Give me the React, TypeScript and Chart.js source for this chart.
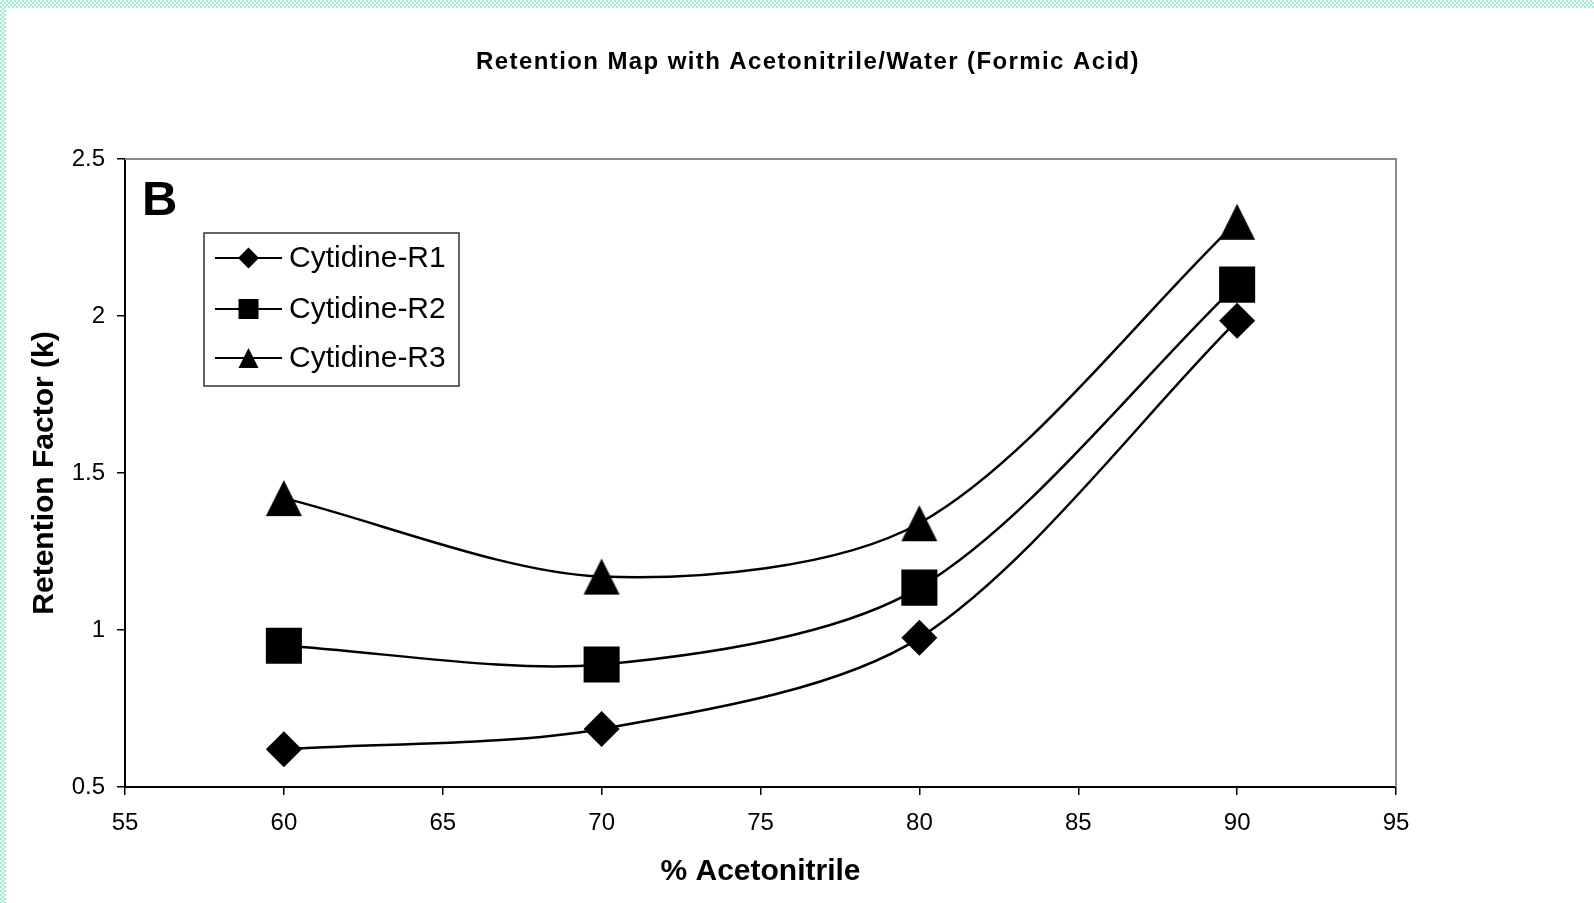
import React, { useEffect, useRef } from 'react';
import { Chart, registerables } from 'chart.js';
Chart.register(...registerables);

// ---- data ----
const acetonitrilePct = [60, 70, 80, 90];
const cytidineR1 = [0.62, 0.685, 0.975, 1.985];
const cytidineR2 = [0.95, 0.89, 1.135, 2.1];
const cytidineR3 = [1.42, 1.17, 1.34, 2.3];
const seriesNames = ['Cytidine-R1', 'Cytidine-R2', 'Cytidine-R3'];
const xRange = [55, 95];
const yRange = [0.5, 2.5];
const chartTitle = 'Retention Map with Acetonitrile/Water (Formic Acid)';
const xTitle = '% Acetonitrile';
const yTitle = 'Retention Factor (k)';
const panelLabel = 'B';

const FONT = '"Liberation Sans", Arial, Helvetica, sans-serif';

function makeTriangle(size: number): HTMLCanvasElement {
  const c = document.createElement('canvas');
  c.width = size + 2;
  c.height = size + 2;
  const g = c.getContext('2d')!;
  g.fillStyle = '#000';
  g.beginPath();
  g.moveTo((size + 2) / 2, 1);
  g.lineTo(size + 1, size + 1);
  g.lineTo(1, size + 1);
  g.closePath();
  g.fill();
  return c;
}

function drawMarker(ctx: CanvasRenderingContext2D, kind: number, x: number, y: number, s: number) {
  ctx.fillStyle = '#000';
  ctx.beginPath();
  if (kind === 0) {
    ctx.moveTo(x, y - s / 2);
    ctx.lineTo(x + s / 2, y);
    ctx.lineTo(x, y + s / 2);
    ctx.lineTo(x - s / 2, y);
  } else if (kind === 1) {
    ctx.rect(x - s / 2, y - s / 2, s, s);
  } else {
    ctx.moveTo(x, y - s / 2);
    ctx.lineTo(x + s / 2, y + s / 2);
    ctx.lineTo(x - s / 2, y + s / 2);
  }
  ctx.closePath();
  ctx.fill();
}

const framePlugin = {
  id: 'frame',
  beforeDatasetsDraw(chart: any) {
    const { ctx } = chart;
    const { left, top, right, bottom } = chart.chartArea;
    ctx.save();
    ctx.strokeStyle = '#8a8a8a';
    ctx.lineWidth = 2;
    ctx.beginPath();
    ctx.moveTo(left, top);
    ctx.lineTo(right, top);
    ctx.lineTo(right, bottom);
    ctx.stroke();
    ctx.restore();
  },
  afterDraw(chart: any) {
    const { ctx } = chart;
    const { left, top } = chart.chartArea;
    ctx.save();
    // chart title
    ctx.fillStyle = '#000';
    ctx.font = `bold 24px ${FONT}`;
    (ctx as any).letterSpacing = '1.4px';
    ctx.textAlign = 'center';
    ctx.textBaseline = 'middle';
    ctx.fillText(chartTitle, 808, 62);
    (ctx as any).letterSpacing = '0px';
    // panel label
    ctx.font = `bold 49px ${FONT}`;
    ctx.textAlign = 'left';
    ctx.textBaseline = 'alphabetic';
    ctx.fillText(panelLabel, left + 17, top + 56);
    // legend
    const bx = left + 79, by = top + 74, bw = 255, bh = 153;
    ctx.fillStyle = '#fff';
    ctx.fillRect(bx, by, bw, bh);
    ctx.strokeStyle = '#333';
    ctx.lineWidth = 1.5;
    ctx.strokeRect(bx, by, bw, bh);
    const rows = [by + 25, by + 76, by + 125];
    const sizes = [21, 20, 20];
    seriesNames.forEach((name, i) => {
      const y = rows[i];
      ctx.strokeStyle = '#000';
      ctx.lineWidth = 2;
      ctx.beginPath();
      ctx.moveTo(bx + 11, y);
      ctx.lineTo(bx + 78, y);
      ctx.stroke();
      drawMarker(ctx, i, bx + 44.5, y, sizes[i]);
      ctx.fillStyle = '#000';
      ctx.font = `30px ${FONT}`;
      ctx.textAlign = 'left';
      ctx.textBaseline = 'middle';
      ctx.fillText(name, bx + 85, y + 1);
    });
    ctx.restore();
  },
};

export default function App() {
  const ref = useRef<HTMLCanvasElement | null>(null);
  useEffect(() => {
    if (!ref.current) return;
    const tri = makeTriangle(36);
    const toPts = (ys: number[]) => acetonitrilePct.map((x, i) => ({ x, y: ys[i] }));
    const common = {
      borderColor: '#000',
      backgroundColor: '#000',
      borderWidth: 2.5,
      pointBackgroundColor: '#000',
      pointBorderColor: '#000',
      pointBorderWidth: 0,
      tension: 0.3,
      fill: false,
    };
    const chart = new Chart(ref.current, {
      type: 'line',
      data: {
        datasets: [
          { ...common, label: seriesNames[0], data: toPts(cytidineR1), pointStyle: 'rectRot', pointRadius: 18 },
          { ...common, label: seriesNames[1], data: toPts(cytidineR2), pointStyle: 'rect', pointRadius: 25.5 },
          { ...common, label: seriesNames[2], data: toPts(cytidineR3), pointStyle: tri as any, pointRadius: 18 },
        ],
      },
      options: {
        animation: false,
        responsive: false,
        devicePixelRatio: 1,
        events: [],
        layout: { padding: { left: 0, right: 198, top: 159, bottom: 0 } },
        plugins: { legend: { display: false }, title: { display: false }, tooltip: { enabled: false } },
        scales: {
          x: {
            type: 'linear',
            min: xRange[0],
            max: xRange[1],
            ticks: { stepSize: 5, color: '#000', font: { family: FONT, size: 24 }, padding: 14, maxRotation: 0 },
            grid: { drawOnChartArea: false, drawTicks: true, tickLength: 8, color: '#000', lineWidth: 1.5 },
            border: { display: true, color: '#000', width: 2 },
            title: { display: true, text: xTitle, color: '#000', font: { family: FONT, size: 30, weight: 'bold' }, padding: { top: 0, bottom: 13 } },
            afterFit: (s: any) => { s.height = 116; },
          },
          y: {
            type: 'linear',
            min: yRange[0],
            max: yRange[1],
            ticks: { stepSize: 0.5, color: '#000', font: { family: FONT, size: 24 }, padding: 12, callback: (v: any) => String(Number(v)) },
            grid: { drawOnChartArea: false, drawTicks: true, tickLength: 8, color: '#000', lineWidth: 1.5 },
            border: { display: true, color: '#000', width: 2 },
            title: { display: true, text: yTitle, color: '#000', font: { family: FONT, size: 30, weight: 'bold' }, padding: { top: 27, bottom: 0 } },
            afterFit: (s: any) => { s.width = 125; },
          },
        },
      },
      plugins: [framePlugin],
    } as any);
    return () => chart.destroy();
  }, []);

  const checker = 'repeating-conic-gradient(rgb(150,245,205) 0 25%, #ffffff 0 50%)';
  return (
    <div style={{ position: 'fixed', left: 0, top: 0, width: 1594, height: 903, background: '#fff', overflow: 'hidden' }}>
      <canvas ref={ref} width={1594} height={903} style={{ display: 'block', width: 1594, height: 903 }} />
      <div style={{ position: 'absolute', left: 0, top: 0, width: 1594, height: 8, background: checker, backgroundSize: '4px 4px' }} />
      <div style={{ position: 'absolute', left: 0, top: 0, width: 6, height: 903, background: checker, backgroundSize: '4px 4px' }} />
    </div>
  );
}
